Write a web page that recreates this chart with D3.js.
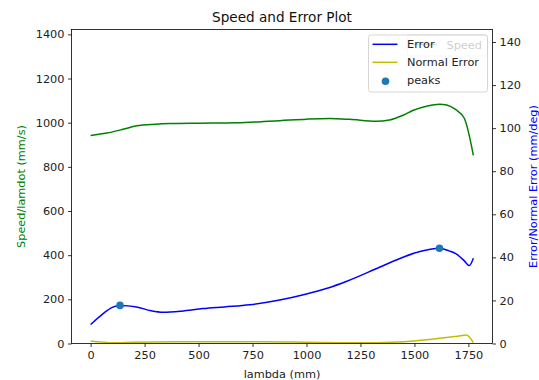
<!DOCTYPE html>
<html>
<head>
<meta charset="utf-8">
<script src="https://cdn.jsdelivr.net/npm/d3@7"></script>
<style>
  body { margin: 0; background: #fff; }
  svg { font-family: "DejaVu Sans", sans-serif; }
</style>
</head>
<body>
<script>
// lambda positions (mm) and values
var speedX = [0, 75, 150, 213, 300, 367, 500, 675, 800, 876, 1000, 1107, 1200, 1323, 1384, 1450, 1492, 1560, 1616, 1650, 1690, 1731, 1773];
var speedY = [942, 953, 970, 986, 993, 996, 998, 1000, 1005, 1009, 1016, 1019, 1015, 1006, 1012, 1035, 1055, 1076, 1084, 1080, 1060, 1020, 852];

var errorX = [0, 58, 100, 136, 213, 280, 336, 420, 521, 620, 737, 876, 1000, 1100, 1184, 1338, 1450, 1530, 1616, 1660, 1693, 1730, 1754, 1773];
var errorY = [8.8, 13.9, 16.8, 17.7, 17.0, 15.2, 14.5, 15.0, 16.2, 17.0, 18.0, 20.2, 23.0, 25.8, 28.8, 35.4, 40.2, 42.8, 44.2, 43.0, 41.6, 38.5, 36.2, 39.6];

var normX = [0, 50, 100, 200, 400, 800, 1000, 1250, 1400, 1500, 1600, 1700, 1740, 1773];
var normY = [1.2, 0.7, 0.3, 0.6, 0.8, 0.8, 0.6, 0.3, 0.6, 1.2, 2.2, 3.4, 3.9, 0.4];

var peakIdx = [3, 18];   // indices into the error series

var xTicks = [0, 250, 500, 750, 1000, 1250, 1500, 1750];
var leftTicks = [0, 200, 400, 600, 800, 1000, 1200, 1400];
var rightTicks = [0, 20, 40, 60, 80, 100, 120, 140];

var W = 539, H = 380;
var margin = {top: 29.5, right: 46.5, bottom: 36.5, left: 71.5};
var width = W - margin.left - margin.right;
var height = H - margin.top - margin.bottom;
var fs = "11.3px";

var svg = d3.select("body").append("svg")
    .attr("width", W)
    .attr("height", H);

var g = svg.append("g")
    .attr("transform", "translate(" + margin.left + "," + margin.top + ")");

// x range with matplotlib style 5% padding
var xmax = d3.max(speedX);
var pad = xmax * 0.05;
var x = d3.scaleLinear().domain([-pad, xmax + pad]).range([0, width]);
var yL = d3.scaleLinear().domain([0, 1422]).range([height, 0]);
var yR = d3.scaleLinear().domain([0, 145.8]).range([height, 0]);

function pts(xs, ys) {
  return xs.map(function(v, i) { return [v, ys[i]]; });
}

var lineL = d3.line()
    .x(function(d) { return x(d[0]); })
    .y(function(d) { return yL(d[1]); })
    .curve(d3.curveMonotoneX);
var lineR = d3.line()
    .x(function(d) { return x(d[0]); })
    .y(function(d) { return yR(d[1]); })
    .curve(d3.curveMonotoneX);

// speed line (first axes)
g.append("path")
    .datum(pts(speedX, speedY))
    .attr("d", lineL)
    .attr("fill", "none")
    .attr("stroke", "#008000")
    .attr("stroke-width", 1.5);

// legend of first axes (Speed), sits under the second legend
var leg1 = g.append("g").attr("transform", "translate(" + (width - 85) + ",5.5)");
leg1.append("rect")
    .attr("width", 80).attr("height", 21)
    .attr("rx", 2.5)
    .attr("fill", "#fff").attr("fill-opacity", 0.8)
    .attr("stroke", "#ccc").attr("stroke-width", 0.8);
leg1.append("line")
    .attr("x1", 4).attr("x2", 29).attr("y1", 9.5).attr("y2", 9.5)
    .attr("stroke", "#008000").attr("stroke-width", 1.5);
leg1.append("text")
    .attr("x", 39).attr("y", 13.6)
    .style("font-size", fs)
    .text("Speed");

// second axes: errors
g.append("path")
    .datum(pts(errorX, errorY))
    .attr("d", lineR)
    .attr("fill", "none")
    .attr("stroke", "#0000ff")
    .attr("stroke-width", 1.5);

g.append("path")
    .datum(pts(normX, normY))
    .attr("d", lineR)
    .attr("fill", "none")
    .attr("stroke", "#bfbf00")
    .attr("stroke-width", 1.5);

g.selectAll(".peak")
    .data(peakIdx)
  .enter().append("circle")
    .attr("class", "peak")
    .attr("cx", function(i) { return x(errorX[i]); })
    .attr("cy", function(i) { return yR(errorY[i]); })
    .attr("r", 3.8)
    .attr("fill", "#1f77b4");

// axes
var fmt = d3.format("d");
var xAxis = g.append("g")
    .attr("transform", "translate(0," + height + ")")
    .call(d3.axisBottom(x).tickValues(xTicks).tickFormat(fmt).tickSize(3.5).tickPadding(3.5));
var leftAxis = g.append("g")
    .call(d3.axisLeft(yL).tickValues(leftTicks).tickFormat(fmt).tickSize(3.5).tickPadding(3.5));
var rightAxis = g.append("g")
    .attr("transform", "translate(" + width + ",0)")
    .call(d3.axisRight(yR).tickValues(rightTicks).tickFormat(fmt).tickSize(3.5).tickPadding(3.5));

[xAxis, leftAxis, rightAxis].forEach(function(a) {
  a.attr("font-size", null).attr("font-family", null);
  a.select(".domain").remove();
  a.selectAll(".tick line").attr("stroke", "#000").attr("stroke-width", 0.8);
  a.selectAll(".tick text").style("font-size", fs).attr("fill", "#222");
});

// frame
g.append("rect")
    .attr("width", width).attr("height", height)
    .attr("fill", "none")
    .attr("stroke", "#000").attr("stroke-width", 0.8);

// legend of second axes
var leg2 = g.append("g").attr("transform", "translate(" + (width - 124) + ",5.5)");
leg2.append("rect")
    .attr("width", 119).attr("height", 57)
    .attr("rx", 2.5)
    .attr("fill", "#fff").attr("fill-opacity", 0.8)
    .attr("stroke", "#ccc").attr("stroke-width", 0.8);
var entries = [
  {label: "Error", color: "#0000ff", type: "line"},
  {label: "Normal Error", color: "#bfbf00", type: "line"},
  {label: "peaks", color: "#1f77b4", type: "dot"}
];
entries.forEach(function(e, i) {
  var yy = 9.3 + i * 18;
  if (e.type == "line") {
    leg2.append("line")
        .attr("x1", 4).attr("x2", 29).attr("y1", yy).attr("y2", yy)
        .attr("stroke", e.color).attr("stroke-width", 1.5);
  } else {
    leg2.append("circle")
        .attr("cx", 17).attr("cy", yy + 1).attr("r", 3.8)
        .attr("fill", e.color);
  }
  leg2.append("text")
      .attr("x", 38.5).attr("y", yy + 4.1)
      .style("font-size", fs)
      .attr("fill", "#222")
      .text(e.label);
});

// titles and labels
svg.append("text")
    .attr("x", margin.left + width / 2)
    .attr("y", 22)
    .attr("text-anchor", "middle")
    .style("font-size", "13.6px")
    .attr("fill", "#111")
    .text("Speed and Error Plot");

svg.append("text")
    .attr("x", margin.left + width / 2)
    .attr("y", 378)
    .attr("text-anchor", "middle")
    .style("font-size", fs)
    .attr("fill", "#222")
    .text("lambda (mm)");

svg.append("text")
    .attr("transform", "translate(25," + (margin.top + height / 2) + ") rotate(-90)")
    .attr("text-anchor", "middle")
    .style("font-size", fs)
    .attr("fill", "#008000")
    .text("Speed/lamdot (mm/s)");

svg.append("text")
    .attr("transform", "translate(537," + (margin.top + height / 2) + ") rotate(-90)")
    .attr("text-anchor", "middle")
    .style("font-size", fs)
    .attr("fill", "#0000ff")
    .text("Error/Normal Error (mm/deg)");
</script>
</body>
</html>
